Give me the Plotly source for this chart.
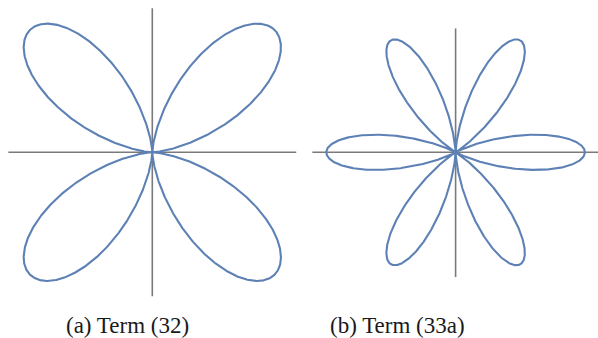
import numpy as np
import plotly.graph_objects as go

# Angular terms drawn as polar curves r(theta) = amp * f(k * theta)**2
captions = ["(a) Term (32)", "(b) Term (33a)"]
lobe_freq = [2, 3]            # sin^2(2θ) -> 4 lobes, cos^2(3θ) -> 6 lobes
lobe_kind = ["sin", "cos"]
amplitude = [1.0, 1.0]

# Extent of the coordinate cross in each panel (data units)
cross_x = [(-0.832, 0.832), (-1.108, 1.12)]
cross_y = [(-0.832, 0.832), (-0.965, 0.958)]

CURVE = "#5E81B5"
AXIS = "#7a7a7a"
W, H = 598, 338

# panel geometry: pixel centre and pixels per unit
centres = [(152.3, 152.3), (455.6, 152.3)]
scales = [173.0, 129.3]
split = 299

theta = np.linspace(0, 2 * np.pi, 3001)

fig = go.Figure()
for i in range(2):
    xa = "x" if i == 0 else "x2"
    ya = "y" if i == 0 else "y2"
    f = np.sin if lobe_kind[i] == "sin" else np.cos
    r = amplitude[i] * f(lobe_freq[i] * theta) ** 2
    # coordinate cross
    fig.add_trace(go.Scatter(x=list(cross_x[i]), y=[0, 0], mode="lines",
                             line=dict(color=AXIS, width=1.6), xaxis=xa, yaxis=ya,
                             hoverinfo="skip", showlegend=False))
    fig.add_trace(go.Scatter(x=[0, 0], y=list(cross_y[i]), mode="lines",
                             line=dict(color=AXIS, width=1.6), xaxis=xa, yaxis=ya,
                             hoverinfo="skip", showlegend=False))
    fig.add_trace(go.Scatter(x=r * np.cos(theta), y=r * np.sin(theta), mode="lines",
                             line=dict(color=CURVE, width=2.1), xaxis=xa, yaxis=ya,
                             showlegend=False))

def panel_axes(px0, px1, cx, cy, s):
    xr = [(px0 - cx) / s, (px1 - cx) / s]
    yr = [-(H - cy) / s, cy / s]
    common = dict(visible=False, showgrid=False, zeroline=False, fixedrange=True)
    return dict(range=xr, domain=[px0 / W, px1 / W], **common), \
           dict(range=yr, domain=[0, 1], **common)

x1, y1 = panel_axes(0, split, *centres[0], scales[0])
x2, y2 = panel_axes(split, W, *centres[1], scales[1])
y2["anchor"] = "x2"
x2["anchor"] = "y2"

cap_font = dict(family="Liberation Serif, Times New Roman, serif", size=23, color="#1a1a1a")

fig.update_layout(
    width=W, height=H,
    margin=dict(l=0, r=0, t=0, b=0),
    paper_bgcolor="white", plot_bgcolor="white",
    xaxis=x1, yaxis=y1, xaxis2=x2, yaxis2=y2,
    annotations=[
        dict(text=captions[0], x=127.5 / W, y=1 - 325 / H, xref="paper", yref="paper",
             showarrow=False, xanchor="center", yanchor="middle", font=cap_font),
        dict(text=captions[1], x=397.5 / W, y=1 - 325 / H, xref="paper", yref="paper",
             showarrow=False, xanchor="center", yanchor="middle", font=cap_font),
    ],
)

fig.write_html("out.html")
